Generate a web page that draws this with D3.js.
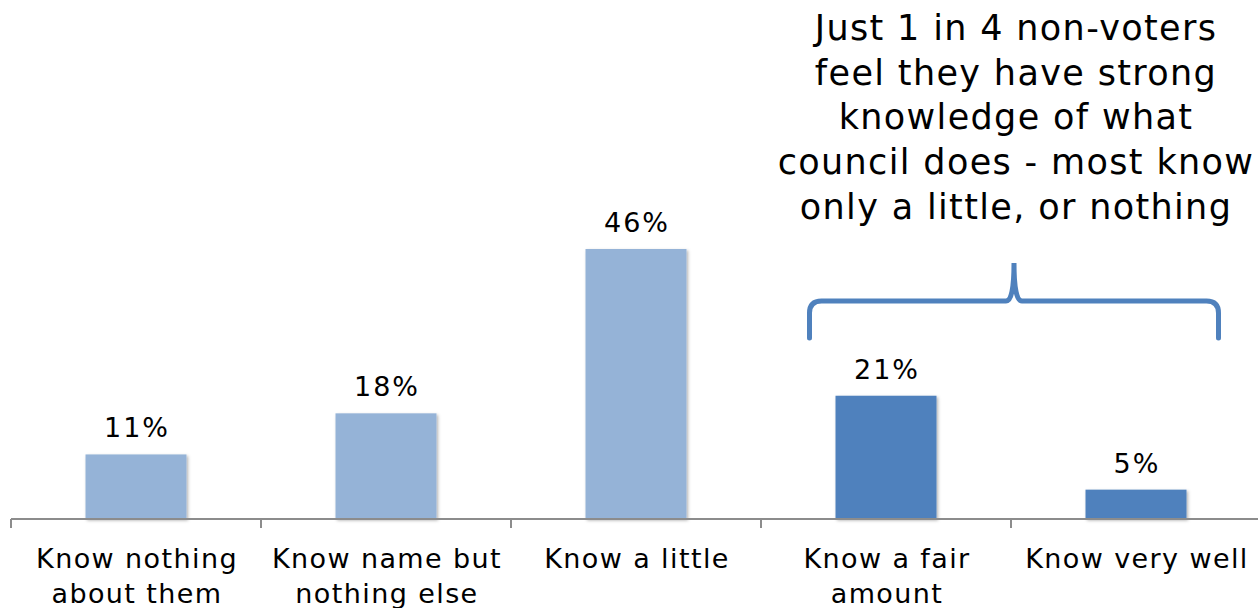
<!DOCTYPE html>
<html>
<head>
<meta charset="utf-8">
<script src="https://cdn.jsdelivr.net/npm/d3@7"></script>
<style>
  body { margin: 0; background: #fff; }
  svg text { font-family: "DejaVu Sans", Verdana, sans-serif; fill: #000; }
</style>
</head>
<body>
<div class="chart"></div>
<script>
'use strict'

const categories = [
  ['Know nothing', 'about them'],
  ['Know name but', 'nothing else'],
  ['Know a little'],
  ['Know a fair', 'amount'],
  ['Know very well']
]
const values = [11, 18, 46, 21, 5]
const highlight = [false, false, false, true, true]
const titleLines = [
  'Just 1 in 4 non-voters',
  'feel they have strong',
  'knowledge of what',
  'council does - most know',
  'only a little, or nothing'
]

const width = 1258
const height = 608
const keys = categories.map((c, i) => i)

const x = d3.scaleBand()
    .domain(keys)
    .range([11, 1261])
    .paddingInner(0.596)
    .paddingOuter(0.298)

const y = d3.scaleLinear()
    .domain([0, 46])
    .range([519, 249])

const svg = d3.select('.chart').append('svg')
    .attr('width', width)
    .attr('height', height)

const defs = svg.append('defs')
const f = defs.append('filter').attr('id', 'shadow')
    .attr('x', '-10%').attr('y', '-10%').attr('width', '125%').attr('height', '125%')
f.append('feDropShadow')
    .attr('dx', 1.5).attr('dy', 1.5).attr('stdDeviation', 1.5)
    .attr('flood-color', '#000').attr('flood-opacity', 0.3)

// bars
svg.selectAll('.bar')
    .data(values)
  .enter().append('rect')
    .attr('class', 'bar')
    .attr('x', (d, i) => x(i))
    .attr('width', x.bandwidth())
    .attr('y', d => y(d))
    .attr('height', d => y(0) - y(d))
    .attr('fill', (d, i) => highlight[i] ? '#4f81bd' : '#95b3d7')
    .attr('filter', 'url(#shadow)')

// value labels
svg.selectAll('.val')
    .data(values)
  .enter().append('text')
    .attr('class', 'val')
    .attr('x', (d, i) => x(i) + x.bandwidth() / 2 + 1)
    .attr('y', d => y(d) - 17)
    .attr('text-anchor', 'middle')
    .style('font-size', '27px')
    .style('letter-spacing', '2px')
    .text(d => d + '%')

// axis line + ticks between categories
const step = x.step()
const axis = svg.append('g').attr('stroke', '#8c8c8c').attr('stroke-width', 2)
axis.append('line')
    .attr('x1', 11).attr('x2', width)
    .attr('y1', y(0)).attr('y2', y(0))
d3.range(keys.length + 1).forEach(i => {
  const tx = 11 + i * step
  axis.append('line')
      .attr('x1', tx).attr('x2', tx)
      .attr('y1', y(0)).attr('y2', y(0) + 9)
})

// category labels
const cat = svg.selectAll('.cat')
    .data(categories)
  .enter().append('text')
    .attr('class', 'cat')
    .attr('text-anchor', 'middle')
    .style('font-size', '27px')
    .style('letter-spacing', '1.4px')
cat.selectAll('tspan')
    .data((d, i) => d.map(t => ({ t, i })))
  .enter().append('tspan')
    .attr('x', d => x(d.i) + x.bandwidth() / 2 + 1)
    .attr('y', (d, j) => 568 + j * 35)
    .text(d => d.t)

// brace over last two categories
const bl = x(3) - 26
const br = x(4) + x.bandwidth() + 32
const bm = (bl + br) / 2
const by = 301
const p = d3.path()
p.moveTo(bl, 338)
p.lineTo(bl, by + 12)
p.quadraticCurveTo(bl, by, bl + 12, by)
p.lineTo(bm - 8, by)
p.quadraticCurveTo(bm, by, bm, 263)
p.quadraticCurveTo(bm, by, bm + 8, by)
p.lineTo(br - 12, by)
p.quadraticCurveTo(br, by, br, by + 12)
p.lineTo(br, 338)
svg.append('path')
    .attr('d', p.toString())
    .attr('fill', 'none')
    .attr('stroke', '#4f81bd')
    .attr('stroke-width', 5)
    .attr('stroke-linecap', 'round')

// annotation
svg.append('text')
    .attr('text-anchor', 'middle')
    .style('font-size', '35px')
    .style('letter-spacing', '1.35px')
  .selectAll('tspan')
    .data(titleLines)
  .enter().append('tspan')
    .attr('x', 1016)
    .attr('y', (d, i) => 40 + i * 44.7)
    .text(d => d)
</script>
</body>
</html>
